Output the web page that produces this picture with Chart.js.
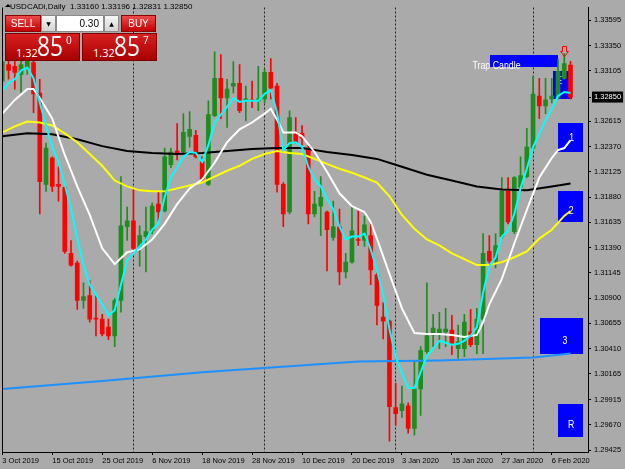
<!DOCTYPE html>
<html>
<head>
<meta charset="utf-8">
<script src="https://cdn.jsdelivr.net/npm/chart.js@4.4.0/dist/chart.umd.min.js"></script>
<style>
  html, body { margin: 0; padding: 0; background: #aaaaaa; }
  #wrap { position: relative; width: 625px; height: 469px; overflow: hidden; }
  #chart { position: absolute; left: 0; top: 0; }
  .hdr { position: absolute; left: 10px; top: 2px; font: 8px 'Liberation Sans', sans-serif; color: #000; white-space: pre; z-index: 2; }
  .tri { position: absolute; left: 5px; top: 4px; width: 0; height: 0; border-left: 3px solid transparent; border-right: 3px solid transparent; border-bottom: 3px solid #000; z-index: 2; }
  .btn { position: absolute; top: 15px; height: 17px; box-sizing: border-box; font: 10px 'Liberation Sans', sans-serif; color: #fff; text-align: center; line-height: 15px; background: linear-gradient(#ec4a4a, #c40000); border: 1px solid #8b0000; z-index: 2; }
  .spin { position: absolute; top: 15px; height: 17px; width: 15px; box-sizing: border-box; background: linear-gradient(#f6f6f6, #d4d4d4); border: 1px solid #8a8a8a; font: 6px 'DejaVu Sans', sans-serif; color: #000; text-align: center; line-height: 15px; z-index: 2; }
  .lot { position: absolute; top: 15px; left: 56px; width: 48px; height: 17px; box-sizing: border-box; background: #fff; border: 1px solid #8a8a8a; font: 10px 'Liberation Sans', sans-serif; color: #000; text-align: right; padding-right: 4px; line-height: 15px; z-index: 2; }
  .px { position: absolute; top: 33px; width: 75px; height: 28px; box-sizing: border-box; background: linear-gradient(#d92020, #a80000); border: 1px solid #7a0000; color: #fff; z-index: 2; font-family: 'Open Sans', sans-serif; }
  .px .s { position: absolute; left: 10px; top: 13px; font-size: 11px; line-height: 12px; }
  .px .b { position: absolute; left: 31px; top: -3px; font-size: 27px; line-height: 30px; transform: scaleX(0.84); transform-origin: left top; }
  .px .u { position: absolute; left: 60px; top: 0px; font-size: 10px; line-height: 12px; }
</style>
</head>
<body>
<div id="wrap">
  <canvas id="chart" width="625" height="469"></canvas>
  <div class="tri"></div>
  <div class="hdr">USDCADi,Daily  1.33160 1.33196 1.32831 1.32850</div>
  <div class="btn" style="left:5px;width:36px;">SELL</div>
  <div class="spin" style="left:41px;">▼</div>
  <div class="lot">0.30</div>
  <div class="spin" style="left:104px;">▲</div>
  <div class="btn" style="left:121px;width:35px;">BUY</div>
  <div class="px" style="left:5px;"><span class="s">1.32</span><span class="b">85</span><span class="u">0</span></div>
  <div class="px" style="left:82px;"><span class="s">1.32</span><span class="b">85</span><span class="u">7</span></div>
</div>
<script>
// daily candles, bar 0 = 3 Oct 2019 ... bar 91 = 11 Feb 2020
const openP = [1.33004,1.33166,1.33147,1.33070,1.33128,1.33185,1.32889,1.32002,1.32259,1.32002,
  1.31973,1.31334,1.31239,1.30876,1.30924,1.30704,1.30695,1.30619,1.30533,1.30876,
  1.31592,1.31649,1.31382,1.31496,1.31553,1.31811,1.31744,1.32193,1.32326,1.32317,
  1.32469,1.32479,1.32221,1.32002,1.32670,1.33032,1.32841,1.32956,1.32984,1.32813,
  1.32822,1.32813,1.32832,1.33089,1.32956,1.32002,1.31735,1.32507,1.32498,1.32355,
  1.31716,1.31792,1.31735,1.31487,1.31592,1.31153,1.31248,1.31468,1.31458,1.31506,
  1.31124,1.30714,1.30676,1.29836,1.29808,1.29855,1.29636,1.30017,1.30380,1.30542,
  1.30552,1.30571,1.30590,1.30409,1.30409,1.30571,1.30447,1.30695,1.31353,1.31258,
  1.31496,1.31935,1.31544,1.31973,1.32078,1.32355,1.32860,1.32765,1.32832,1.32841,
  1.33032,1.33160];
const highP = [1.33290,1.33242,1.33223,1.33261,1.33318,1.33290,1.33023,1.32403,1.32269,1.32174,
  1.31992,1.31458,1.31258,1.31048,1.31067,1.30924,1.30743,1.30695,1.30895,1.32078,
  1.31782,1.31954,1.31601,1.31782,1.31821,1.31935,1.32355,1.32355,1.32593,1.32689,
  1.32708,1.32527,1.32269,1.32813,1.33290,1.33261,1.33023,1.33194,1.33166,1.32956,
  1.33004,1.33147,1.33118,1.33223,1.32984,1.32021,1.32717,1.32651,1.32574,1.32383,
  1.31935,1.32078,1.31744,1.31840,1.31763,1.31334,1.31782,1.31744,1.31697,1.31639,
  1.31143,1.30857,1.30685,1.30075,1.30046,1.29884,1.30285,1.30428,1.31048,1.30743,
  1.30762,1.30800,1.30733,1.30638,1.30743,1.30790,1.30800,1.31525,1.31506,1.31525,
  1.32069,1.32069,1.32078,1.32269,1.32546,1.33051,1.33032,1.33032,1.33032,1.33213,
  1.33271,1.33196];
const lowP = [1.32956,1.33023,1.32927,1.32889,1.33070,1.32698,1.31716,1.31935,1.31935,1.31840,
  1.31334,1.31210,1.30790,1.30800,1.30666,1.30533,1.30533,1.30495,1.30428,1.30762,
  1.31458,1.31334,1.31210,1.31153,1.31525,1.31649,1.31735,1.32164,1.32240,1.32307,
  1.32364,1.32259,1.32030,1.31992,1.32660,1.32641,1.32555,1.32889,1.32698,1.32622,
  1.32746,1.32717,1.32794,1.32832,1.31926,1.31592,1.31716,1.32403,1.32383,1.31620,
  1.31687,1.31506,1.31162,1.31458,1.31029,1.31096,1.31239,1.31410,1.31401,1.31029,
  1.30638,1.30504,1.29512,1.29665,1.29741,1.29588,1.29569,1.29760,1.30361,1.30428,
  1.30409,1.30428,1.30351,1.30313,1.30332,1.30428,1.30361,1.30361,1.31239,1.31191,
  1.31477,1.31620,1.31525,1.31935,1.32069,1.32336,1.32641,1.32689,1.32794,1.32832,
  1.33023,1.32831];
const closeP = [1.33194,1.33108,1.33089,1.33166,1.33223,1.32880,1.32030,1.32355,1.31983,1.31983,
  1.31353,1.31220,1.30876,1.30914,1.30695,1.30695,1.30552,1.30533,1.30876,1.31601,
  1.31649,1.31382,1.31506,1.31544,1.31792,1.31735,1.32269,1.32317,1.32307,1.32507,
  1.32536,1.32269,1.32050,1.32679,1.33032,1.32841,1.32927,1.32984,1.32717,1.32832,
  1.32813,1.32832,1.33089,1.32937,1.32002,1.31716,1.32651,1.32412,1.32450,1.31716,
  1.31811,1.31878,1.31563,1.31592,1.31153,1.31248,1.31553,1.31458,1.31611,1.31172,
  1.30828,1.30676,1.29846,1.29779,1.29874,1.29636,1.30017,1.30390,1.30533,1.30609,
  1.30599,1.30599,1.30447,1.30475,1.30666,1.30447,1.30695,1.31334,1.31258,1.31410,
  1.31935,1.31639,1.32069,1.32088,1.32364,1.32880,1.32765,1.32822,1.32860,1.33099,
  1.33175,1.32850];

// moving averages
const cyanMA = [1.32908,1.32984,1.33023,1.33108,1.33137,1.33032,1.32794,1.32574,1.32364,1.32221,
  1.32002,1.31763,1.31477,1.31220,1.31029,1.30933,1.30838,1.30733,1.30781,1.31029,
  1.31267,1.31334,1.31401,1.31468,1.31563,1.31620,1.31878,1.32078,1.32164,1.32269,
  1.32317,1.32307,1.32221,1.32383,1.32603,1.32679,1.32755,1.32841,1.32803,1.32813,
  1.32813,1.32813,1.32880,1.32918,1.32698,1.32336,1.32403,1.32412,1.32364,1.32174,
  1.32050,1.31983,1.31859,1.31763,1.31592,1.31468,1.31496,1.31496,1.31525,1.31372,
  1.31172,1.30933,1.30599,1.30332,1.30170,1.30027,1.30027,1.30180,1.30342,1.30409,
  1.30485,1.30466,1.30447,1.30456,1.30485,1.30533,1.30619,1.30952,1.31210,1.31296,
  1.31496,1.31553,1.31716,1.31964,1.32155,1.32364,1.32498,1.32622,1.32736,1.32860,
  1.32899,1.32889];
const whiteIdx = [0,2,4,5,6,8,10,12,14,16,18,20,22,24,26,28,30,32,34,36,38,40,42,43,44,45,46,47,48,50,
  52,54,56,58,59,60,62,64,66,68,70,72,74,76,77,78,80,82,84,86,88,89,90,91];
const whiteMA = [1.32689,1.32822,1.32927,1.32927,1.32841,1.32641,1.32288,1.31983,1.31706,1.31382,
  1.31229,1.31344,1.31372,1.31468,1.31620,1.31811,1.31964,1.32050,1.32212,1.32412,
  1.32536,1.32603,1.32689,1.32736,1.32631,1.32507,1.32507,1.32507,1.32469,1.32317,
  1.32126,1.31916,1.31792,1.31735,1.31639,1.31477,1.31134,1.30800,1.30561,1.30552,
  1.30552,1.30542,1.30523,1.30542,1.30666,1.30838,1.31086,1.31429,1.31754,1.32069,
  1.32259,1.32336,1.32355,1.32431];
const yellowIdx = [0,2,4,6,8,10,12,14,16,18,20,22,24,26,28,30,32,34,36,38,40,42,44,46,48,50,
  52,54,56,58,60,62,64,66,68,70,72,74,76,78,80,82,84,86,88,90,91];
const yellowMA = [1.32507,1.32565,1.32612,1.32603,1.32574,1.32498,1.32412,1.32298,1.32183,1.32040,
  1.31983,1.31945,1.31935,1.31935,1.31964,1.31992,1.32021,1.32078,1.32135,1.32183,
  1.32250,1.32298,1.32326,1.32307,1.32298,1.32250,1.32202,1.32155,1.32116,1.32069,
  1.32021,1.31887,1.31706,1.31573,1.31468,1.31410,1.31334,1.31277,1.31220,1.31220,
  1.31248,1.31296,1.31353,1.31477,1.31563,1.31697,1.31744];
const blackIdx = [0,4,8,12,16,20,24,28,32,36,40,44,48,52,56,60,64,68,72,76,80,84,88,91];
const blackMA = [1.32469,1.32498,1.32488,1.32441,1.32374,1.32326,1.32307,1.32298,1.32307,1.32326,
  1.32345,1.32355,1.32355,1.32317,1.32288,1.32250,1.32174,1.32097,1.32040,1.31983,
  1.31954,1.31945,1.31983,1.32011];
const blueIdx = [0,16,32,46,57,70,85,91];
const blueMA = [1.30017,1.30094,1.30180,1.30237,1.30285,1.30294,1.30323,1.30361];

// axis ticks
const tickIdx = [0,8,16,24,32,40,48,56,64,72,80,88];
const tickLabels = ['3 Oct 2019','15 Oct 2019','25 Oct 2019','6 Nov 2019','18 Nov 2019','28 Nov 2019',
  '10 Dec 2019','20 Dec 2019','3 Jan 2020','15 Jan 2020','27 Jan 2020','6 Feb 2020'];
const monthStartIdx = [21,42,63,85];
const priceTicks = [1.33595,1.33350,1.33105,1.32850,1.32615,1.32370,1.32125,1.31880,1.31635,
  1.31390,1.31145,1.30900,1.30655,1.30410,1.30165,1.29915,1.29670,1.29425];
const bidPrice = 1.32850;

// chart objects: [fromBar, toBar, topPrice, bottomPrice]
const boxes = [
  [78.1, 89.0, 1.33261, 1.33147],
  [88.2, 91.3, 1.33099, 1.32832],
  [89.0, 93.0, 1.32603, 1.32326],
  [89.0, 93.0, 1.31935, 1.31639],
  [86.1, 93.0, 1.30704, 1.30351],
  [89.0, 93.0, 1.29874, 1.29550]
];
// [bar, price, text, align]
const notes = [
  [75.3, 1.33150, 'Trap Candle', 'left'],
  [89.2, 1.33004, 'E', 'center'],
  [91.2, 1.32450, '1', 'center'],
  [91.1, 1.31744, '2', 'center'],
  [90.1, 1.30485, '3', 'center'],
  [91.1, 1.29665, 'R', 'center']
];
const arrowAt = [90, 1.33347];

const xMin = -0.05, xMax = 93.8;
const bull = '#1f8c1f', bear = '#ff0000';

const bars = openP.map((_, i) => i);
const candleColors = bars.map(i => closeP[i] >= openP[i] ? bull : bear);
const pts = (ix, vals) => ix.map((x, k) => ({ x: x, y: vals[k] }));

const overlay = {
  id: 'overlay',
  beforeDraw(chart) {
    const { ctx, scales: { x, y } } = chart;
    ctx.save();
    ctx.fillStyle = '#0000ff';
    boxes.forEach(b => {
      const x0 = x.getPixelForValue(b[0]), x1 = x.getPixelForValue(b[1]);
      const y0 = y.getPixelForValue(b[2]), y1 = y.getPixelForValue(b[3]);
      ctx.fillRect(Math.round(x0), Math.round(y0), Math.round(x1 - x0), Math.round(y1 - y0));
    });
    ctx.restore();
  },
  beforeDatasetsDraw(chart) {
    const { ctx, scales: { x, y } } = chart;
    ctx.save();
    ctx.fillStyle = '#ffffff';
    ctx.textBaseline = 'middle';
    ctx.font = '11px "Liberation Sans", sans-serif';
    notes.forEach(n => {
      const px = x.getPixelForValue(n[0]), py = y.getPixelForValue(n[1]);
      ctx.save();
      ctx.translate(px, py);
      ctx.scale(0.8, 1);
      ctx.textAlign = n[3];
      ctx.fillText(n[2], 0, 0);
      ctx.restore();
    });
    ctx.restore();
  },
  afterDatasetsDraw(chart) {
    const { ctx, chartArea, scales: { x, y } } = chart;
    ctx.save();
    // sell arrow
    const ax = Math.round(x.getPixelForValue(arrowAt[0])) + 0.5;
    const ay = Math.round(y.getPixelForValue(arrowAt[1])) + 0.5;
    ctx.strokeStyle = '#ff0000';
    ctx.lineWidth = 1;
    ctx.beginPath();
    ctx.moveTo(ax - 2, ay);
    ctx.lineTo(ax + 2, ay);
    ctx.lineTo(ax + 2, ay + 5);
    ctx.lineTo(ax + 4, ay + 5);
    ctx.lineTo(ax, ay + 10);
    ctx.lineTo(ax - 4, ay + 5);
    ctx.lineTo(ax - 2, ay + 5);
    ctx.closePath();
    ctx.stroke();
    // left frame line
    ctx.strokeStyle = '#000';
    ctx.beginPath();
    ctx.moveTo(chartArea.left + 0.5, chartArea.top);
    ctx.lineTo(chartArea.left + 0.5, chartArea.bottom);
    ctx.stroke();
    ctx.restore();
  }
};

Chart.defaults.font.family = '"Liberation Sans", sans-serif';
Chart.defaults.color = '#000';

new Chart(document.getElementById('chart'), {
  type: 'bar',
  data: {
    datasets: [
      {
        type: 'line', data: cyanMA.map((v, i) => ({ x: i, y: v })),
        borderColor: '#00ffff', borderWidth: 2, pointRadius: 0, order: 1
      },
      {
        type: 'line', data: pts(whiteIdx, whiteMA),
        borderColor: '#ffffff', borderWidth: 2, pointRadius: 0, order: 2
      },
      {
        type: 'line', data: pts(yellowIdx, yellowMA),
        borderColor: '#ffff00', borderWidth: 2, pointRadius: 0, order: 3
      },
      {
        type: 'line', data: pts(blackIdx, blackMA),
        borderColor: '#000000', borderWidth: 2, pointRadius: 0, order: 4
      },
      {
        type: 'line', data: pts(blueIdx, blueMA),
        borderColor: '#1e90ff', borderWidth: 2, pointRadius: 0, order: 5
      },
      {
        data: bars.map(i => ({ x: i, y: [openP[i], closeP[i]] })),
        backgroundColor: candleColors, barThickness: 4, minBarLength: 1,
        grouped: false, order: 9
      },
      {
        data: bars.map(i => ({ x: i, y: [lowP[i], highP[i]] })),
        backgroundColor: candleColors, barThickness: 1, minBarLength: 1,
        grouped: false, order: 10
      }
    ]
  },
  options: {
    responsive: false,
    animation: false,
    layout: { padding: { left: 2, top: 0, right: 0, bottom: 0 } },
    plugins: { legend: { display: false }, tooltip: { enabled: false } },
    scales: {
      x: {
        type: 'linear', position: 'bottom', min: xMin, max: xMax, offset: false,
        afterBuildTicks: s => { s.ticks = tickIdx.map(v => ({ value: v })); },
        afterFit: s => { s.height = 17; },
        ticks: {
          autoSkip: false, maxRotation: 0, align: 'start', padding: 1,
          font: { size: 7.5 },
          callback: (v, i) => tickLabels[i]
        },
        grid: { offset: false, drawOnChartArea: false, drawTicks: true, tickLength: 3, tickColor: '#000' },
        border: { display: true, color: '#000', width: 1 }
      },
      sep: {
        type: 'linear', position: 'bottom', min: xMin, max: xMax, offset: false,
        afterBuildTicks: s => { s.ticks = monthStartIdx.map(v => ({ value: v })); },
        afterFit: s => { s.height = 0; },
        ticks: { display: false },
        grid: { offset: false, color: '#222222', drawTicks: false, lineWidth: 1 },
        border: { display: false, dash: [2, 2] }
      },
      y: {
        type: 'linear', position: 'right', min: 1.29406, max: 1.33719,
        afterBuildTicks: s => { s.ticks = priceTicks.map(v => ({ value: v })); },
        afterFit: s => { s.width = 37; },
        ticks: {
          autoSkip: false, padding: 3, font: { size: 7.5 },
          callback: v => v.toFixed(5),
          color: c => c.tick && c.tick.value === bidPrice ? '#ffffff' : '#000000',
          showLabelBackdrop: c => !!(c.tick && c.tick.value === bidPrice),
          backdropColor: '#000000',
          backdropPadding: { x: 2, y: 1 }
        },
        grid: { drawOnChartArea: false, drawTicks: true, tickLength: 3, tickColor: '#000' },
        border: { display: true, color: '#000', width: 1 }
      }
    }
  },
  plugins: [overlay]
});
</script>
</body>
</html>
